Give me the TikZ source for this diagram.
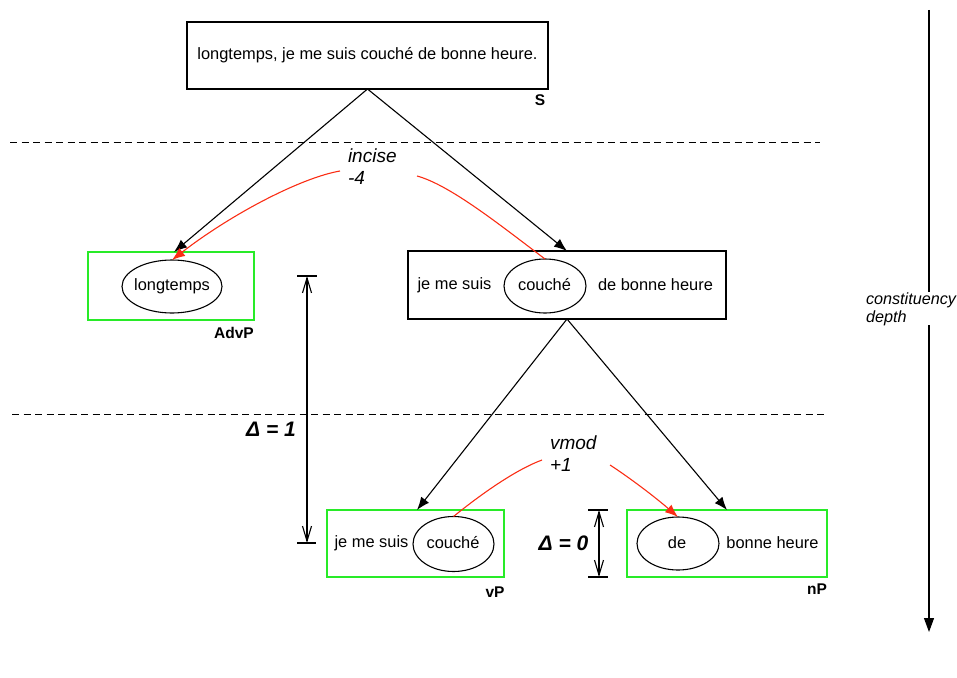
\documentclass[tikz,border=0pt]{standalone}
\usepackage{fontspec}
\setmainfont{Liberation Sans}
\usetikzlibrary{shapes.geometric,arrows.meta}
\definecolor{boxgreen}{RGB}{40,235,40}
\definecolor{linkred}{RGB}{250,45,20}
\begin{document}
\begin{tikzpicture}[x=1pt,y=-1pt,
  every node/.style={inner sep=0pt, outer sep=0pt},
  txt/.style={font=\fontsize{16.4}{19}\selectfont},
  box/.style={draw, line width=1.1pt},
  gbox/.style={draw=boxgreen, line width=1.1pt},
  ell/.style={ellipse, draw, line width=1.1pt},
  lbl/.style={font=\bfseries\fontsize{15.5}{18}\selectfont},
  rel/.style={font=\itshape\fontsize{19}{22}\selectfont, align=left},
  axlbl/.style={font=\itshape\fontsize{16.2}{18}\selectfont, align=left},
  delta/.style={font=\bfseries\itshape\fontsize{21}{24}\selectfont},
  arr/.style={line width=1.1pt, -{Latex[length=13pt,width=10pt]}},
  redline/.style={draw=linkred, line width=1.1pt},
  redarr/.style={redline, -{Latex[length=13pt,width=10pt]}},
  dim/.style={line width=1.1pt, {Straight Barb[length=15pt,width=9pt]}-{Straight Barb[length=15pt,width=9pt]}},
  tick/.style={line width=1.1pt},
  sepline/.style={line width=1pt, dash pattern=on 7pt off 4.5pt},
  axline/.style={line width=1.1pt},
]
\useasboundingbox (0,0) rectangle (957,677);

% separators
\coordinate (sepA1) at (10,142);
\coordinate (sepA2) at (820,142);
\coordinate (sepB1) at (12,414);
\coordinate (sepB2) at (827,414);
\draw[sepline] (sepA1) -- (sepA2);
\draw[sepline] (sepB1) -- (sepB2);

% S
\node[box, txt, minimum width=361pt, minimum height=67pt] (S) at (367.5,55.5) {longtemps, je me suis couché de bonne heure.};
\node[lbl] (Slbl) at (540,100) {S};

% AdvP
\node[gbox, minimum width=166pt, minimum height=68pt] (ADV) at (171,286) {};
\node[ell, minimum width=100pt, minimum height=53pt] (ltE) at (172,286.5) {};
\node[txt] (ltT) at (ltE) {longtemps};
\node[lbl] (ADVlbl) at (234,333) {AdvP};

% upper VP
\node[box, minimum width=318pt, minimum height=68pt] (C) at (567,285) {};
\node[txt] (C1) at (454.5,285) {je me suis};
\node[ell, minimum width=82pt, minimum height=54pt] (cE) at (545,286) {};
\node[txt] (cT) at (544.5,285) {couché};
\node[txt] (C3) at (655.5,285) {de bonne heure};

% vP
\node[gbox, minimum width=177pt, minimum height=67pt] (V) at (415.5,543.5) {};
\node[txt] (V1) at (371.5,543) {je me suis};
\node[ell, minimum width=81pt, minimum height=55pt] (vE) at (453.5,544) {};
\node[txt] (vT) at (453,543) {couché};
\node[lbl] (Vlbl) at (495,592) {vP};

% nP
\node[gbox, minimum width=200pt, minimum height=67pt] (N) at (727,543.5) {};
\node[ell, minimum width=82pt, minimum height=53pt] (dE) at (678,543.5) {};
\node[txt] (dT) at (677,543) {de};
\node[txt] (N2) at (772.5,543) {bonne heure};
\node[lbl] (Nlbl) at (817,589) {nP};

% tree arrows
\draw[arr] (S.south) -- ([xshift=3pt]ADV.north);
\draw[arr] (S.south) -- (C.north);
\draw[arr] (C.south) -- ([xshift=1.5pt]V.north);
\draw[arr] (C.south) -- (N.north);

% relation labels
\node[rel, anchor=west] (inc) at (348,166.5) {incise\\-4};
\node[rel, anchor=west] (vmod) at (550,453.5) {vmod\\+1};

% red links
\coordinate (incL) at (340,171);
\coordinate (incR) at (417,176);
\draw[redarr] (incL) .. controls (300,178) and (230,215) .. (ltE.north);
\draw[redline] (incR) .. controls (450,185) and (500,225) .. (cE.north);
\coordinate (vmL) at (542,460);
\coordinate (vmR) at (610,465);
\draw[redline] (vmL) .. controls (515,470) and (480,495) .. (vE.north);
\draw[redarr] (vmR) .. controls (630,478) and (655,497) .. (dE.north);

% Delta = 1
\coordinate (d1t) at (307,276);
\coordinate (d1b) at (307,543);
\draw[dim] (d1t) -- (d1b);
\draw[tick] ([xshift=-10pt]d1t) -- ([xshift=10pt]d1t);
\draw[tick] ([xshift=-10pt]d1b) -- ([xshift=9pt]d1b);
\node[delta] (D1) at (271,429.5) {Δ = 1};

% Delta = 0
\coordinate (d0t) at (599,510);
\coordinate (d0b) at (599,577);
\draw[dim] (d0t) -- (d0b);
\draw[tick] ([xshift=-11pt]d0t) -- ([xshift=9pt]d0t);
\draw[tick] ([xshift=-11pt]d0b) -- ([xshift=9pt]d0b);
\node[delta] (D0) at (563.5,543) {Δ = 0};

% depth axis
\coordinate (axTop) at (929,10);
\coordinate (axG1) at (929,292);
\coordinate (axG2) at (929,325);
\coordinate (axEnd) at (929,632);
\draw[axline] (axTop) -- (axG1);
\draw[axline, -{Triangle[length=14pt,width=10pt]}] (axG2) -- (axEnd);
\node[axlbl, anchor=west] (axL) at (866,309) {constituency\\depth};
\end{tikzpicture}
\end{document}
